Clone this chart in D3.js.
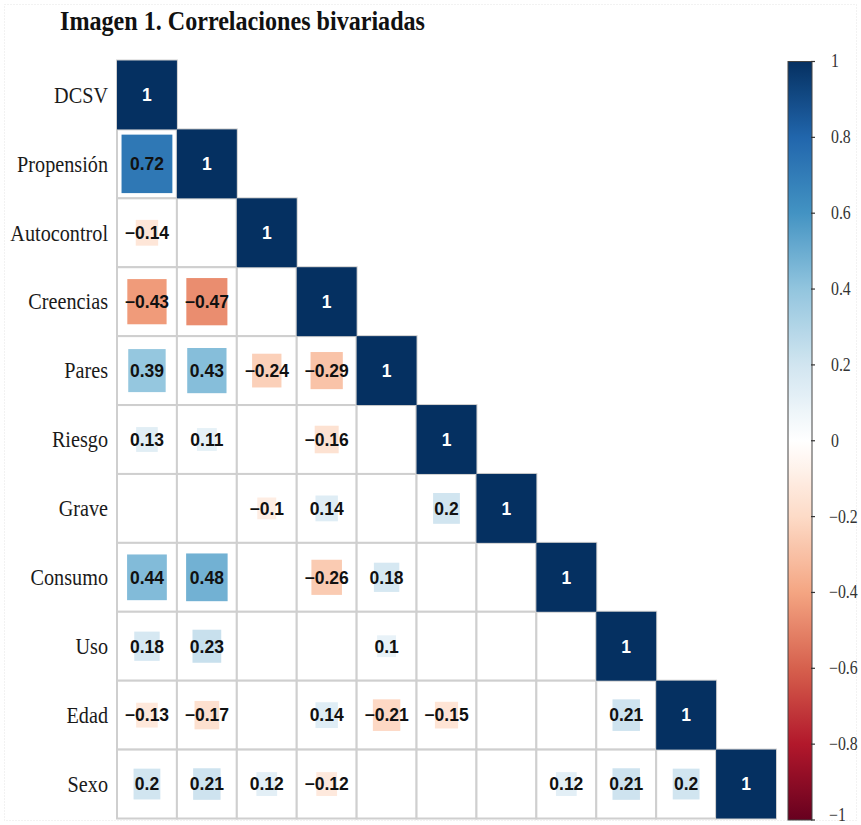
<!DOCTYPE html>
<html><head><meta charset="utf-8">
<script src="https://cdn.jsdelivr.net/npm/d3@7"></script>
<style>body{margin:0;background:#fff;} svg{display:block;}</style>
</head><body>
<svg id="chart" width="861" height="825"></svg>
<script>
const variables = ["DCSV","Propensión","Autocontrol","Creencias","Pares","Riesgo","Grave","Consumo","Uso","Edad","Sexo"];
// lower triangle rows (null = not significant / blank)
const rowDCSV = [];
const rowPropension = [0.72];
const rowAutocontrol = [-0.14, null];
const rowCreencias = [-0.43, -0.47, null];
const rowPares = [0.39, 0.43, -0.24, -0.29];
const rowRiesgo = [0.13, 0.11, null, -0.16, null];
const rowGrave = [null, null, -0.1, 0.14, null, 0.2];
const rowConsumo = [0.44, 0.48, null, -0.26, 0.18, null, null];
const rowUso = [0.18, 0.23, null, null, 0.1, null, null, null];
const rowEdad = [-0.13, -0.17, null, 0.14, -0.21, -0.15, null, null, 0.21];
const rowSexo = [0.2, 0.21, 0.12, -0.12, null, null, null, 0.12, 0.21, 0.2];
const rows = [rowDCSV,rowPropension,rowAutocontrol,rowCreencias,rowPares,rowRiesgo,rowGrave,rowConsumo,rowUso,rowEdad,rowSexo];
const legendTicks = [1,0.8,0.6,0.4,0.2,0,-0.2,-0.4,-0.6,-0.8,-1];
const paletteColors = ["#67001F","#B2182B","#D6604D","#F4A582","#FDDBC7","#FFFFFF","#D1E5F0","#92C5DE","#4393C3","#2166AC","#053061"];
const titleText = "Imagen 1. Correlaciones bivariadas";

const svg = d3.select("#chart");
// faint dotted frame
svg.append("rect").attr("x",4.5).attr("y",4.5).attr("width",852).attr("height",816)
  .attr("fill","none").attr("stroke","#e4e4e4").attr("stroke-dasharray","1,2");

svg.append("text").attr("x",60).attr("y",30)
  .attr("font-family","Liberation Serif, Times New Roman, serif").attr("font-weight","bold")
  .attr("font-size",27).attr("fill","#111")
  .attr("textLength",365).attr("lengthAdjust","spacingAndGlyphs")
  .text(titleText);

const x = d3.scaleBand().domain(variables).range([117,776]).padding(0);
const y = d3.scaleBand().domain(variables).range([60.5,818.5]).padding(0);
const color = d3.scaleLinear()
  .domain(d3.range(paletteColors.length).map(i => -1 + 2*i/(paletteColors.length-1)))
  .range(paletteColors);

const cells = [];
rows.forEach((r,i) => {
  r.forEach((v,j) => cells.push({row:variables[i], col:variables[j], v}));
  cells.push({row:variables[i], col:variables[i], v:1});
});

const g = svg.append("g");
// grid
g.selectAll("rect.cell").data(cells).join("rect").attr("class","cell")
  .attr("x",d=>x(d.col)).attr("y",d=>y(d.row))
  .attr("width",x.bandwidth()).attr("height",y.bandwidth())
  .attr("fill","#fff").attr("stroke","#cfcfcf").attr("stroke-width",2);

const filled = cells.filter(d=>d.v!==null);
g.selectAll("rect.sq").data(filled).join("rect").attr("class","sq")
  .attr("x",d=>x(d.col)+x.bandwidth()*(1-Math.sqrt(Math.abs(d.v)))/2)
  .attr("y",d=>y(d.row)+y.bandwidth()*(1-Math.sqrt(Math.abs(d.v)))/2)
  .attr("width",d=>x.bandwidth()*Math.sqrt(Math.abs(d.v)))
  .attr("height",d=>y.bandwidth()*Math.sqrt(Math.abs(d.v)))
  .attr("fill",d=>color(d.v));

const fmt = v => (v<0?"\u2212":"") + String(Math.abs(v));
g.selectAll("text.val").data(filled).join("text").attr("class","val")
  .attr("x",d=>x(d.col)+x.bandwidth()/2).attr("y",d=>y(d.row)+y.bandwidth()/2)
  .attr("dy","0.36em").attr("text-anchor","middle")
  .attr("font-family","Liberation Sans, Arial, sans-serif").attr("font-weight","bold")
  .attr("font-size",17.5)
  .attr("fill",d=>Math.abs(d.v)>0.9?"#fff":"#111")
  .text(d=>fmt(d.v));

// row labels
svg.selectAll("text.rl").data(variables).join("text").attr("class","rl")
  .attr("transform",d=>`translate(108,${y(d)+y.bandwidth()/2}) scale(0.86,1)`)
  .attr("dy","0.33em").attr("text-anchor","end")
  .attr("font-family","Liberation Serif, Times New Roman, serif")
  .attr("font-size",23.5).attr("fill","#1a1a1a")
  .text(d=>d);

// color legend
const ly = d3.scaleLinear().domain([-1,1]).range([820,61.5]);
const defs = svg.append("defs");
const grad = defs.append("linearGradient").attr("id","cbar").attr("x1",0).attr("y1",1).attr("x2",0).attr("y2",0);
d3.range(0,1.0001,0.02).forEach(t => grad.append("stop").attr("offset",t).attr("stop-color",color(-1+2*t)));
svg.append("rect").attr("x",788).attr("y",ly(1)).attr("width",24).attr("height",ly(-1)-ly(1))
  .attr("fill","url(#cbar)").attr("stroke","#444").attr("stroke-width",1);
const lg = svg.append("g");
lg.selectAll("line").data(legendTicks).join("line")
  .attr("x1",811).attr("x2",815).attr("y1",d=>ly(d)).attr("y2",d=>ly(d))
  .attr("stroke","#333").attr("stroke-width",1.2);
lg.selectAll("text").data(legendTicks).join("text")
  .attr("transform",d=>`translate(${d<0?829:831},${Math.min(ly(d),815)}) scale(0.88,1)`)
  .attr("dy","0.33em")
  .attr("font-family","Liberation Serif, Times New Roman, serif")
  .attr("font-size",18).attr("fill","#333")
  .text(d=>fmt(d));
</script>
</body></html>
